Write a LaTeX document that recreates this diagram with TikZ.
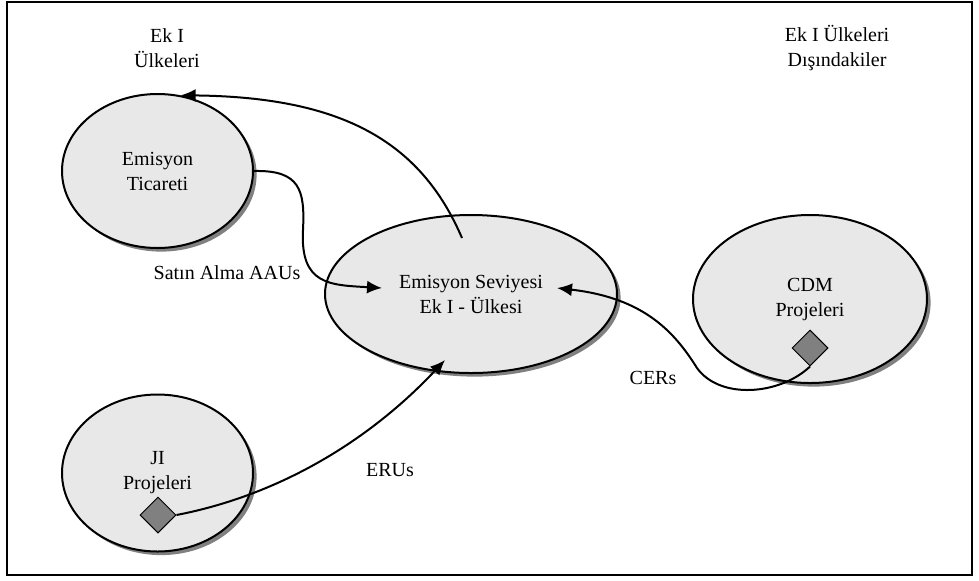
\documentclass[tikz,border=0pt]{standalone}
\usepackage{fontspec}
\setmainfont{Liberation Serif}
\usetikzlibrary{shapes.geometric,shadows,arrows.meta}
\tikzset{
  area/.style={ellipse, draw, line width=1pt, fill=black!9, inner sep=0pt, align=center,
    drop shadow={shadow xshift=1.8pt, shadow yshift=-1.8pt, fill=black!50, opacity=1}},
  proj/.style={diamond, draw, line width=0.5pt, fill=black!50, minimum size=18pt, inner sep=0pt},
  flow/.style={line width=1pt, -{Latex[length=7.5pt,width=6.5pt]}},
  lbl/.style={align=center, inner sep=0pt}
}
\begin{document}
\begin{tikzpicture}[x=0.5pt, y=-0.5pt, font=\fontsize{10}{12.5}\selectfont]

\useasboundingbox (0,0) rectangle (979,580);
\draw[line width=0.8pt] (7,2) rectangle (972,575);

\node[lbl] (ek1) at (167,48) {Ek I\\Ülkeleri};
\node[lbl] (disi) at (837,48) {Ek I Ülkeleri\\Dışındakiler};

\node[area, minimum width=95.5pt, minimum height=77pt] (tic) at (157.5,171) {Emisyon\\Ticareti};
\node[area, minimum width=146pt, minimum height=79pt] (lvl) at (471,294) {Emisyon Seviyesi\\Ek I - Ülkesi};
\node[area, minimum width=117pt, minimum height=84pt] (cdm) at (810,299) {CDM\\Projeleri};
\node[area, minimum width=95.5pt, minimum height=78.5pt] (ji) at (157.5,473) {JI\\Projeleri};

\node[proj] (cdmd) at (810,348) {};
\node[proj] (jid) at (158,515) {};

\node[lbl] (aau) at (227,273) {Satın Alma AAUs};
\node[lbl] (cer) at (653,378) {CERs};
\node[lbl] (eru) at (390,470) {ERUs};

\coordinate (lvltop) at (462,238);
\coordinate (lvlwest) at (382,288);
\coordinate (lvleast) at (557,288);
\coordinate (lvlsouth) at (445,360);

\draw[flow] (lvltop) .. controls (420,140) and (340,97) .. (tic.73);
\draw[flow] (tic.east) .. controls (300,170) and (305,190) .. (303,230) .. controls (300,285) and (330,285) .. (lvlwest);
\draw[flow] (cdmd.south) .. controls (780,395) and (720,400) .. (697,368) .. controls (675,333) and (645,298) .. (lvleast);
\draw[flow] (jid.east) .. controls (280,495) and (370,440) .. (lvlsouth);

\end{tikzpicture}
\end{document}
